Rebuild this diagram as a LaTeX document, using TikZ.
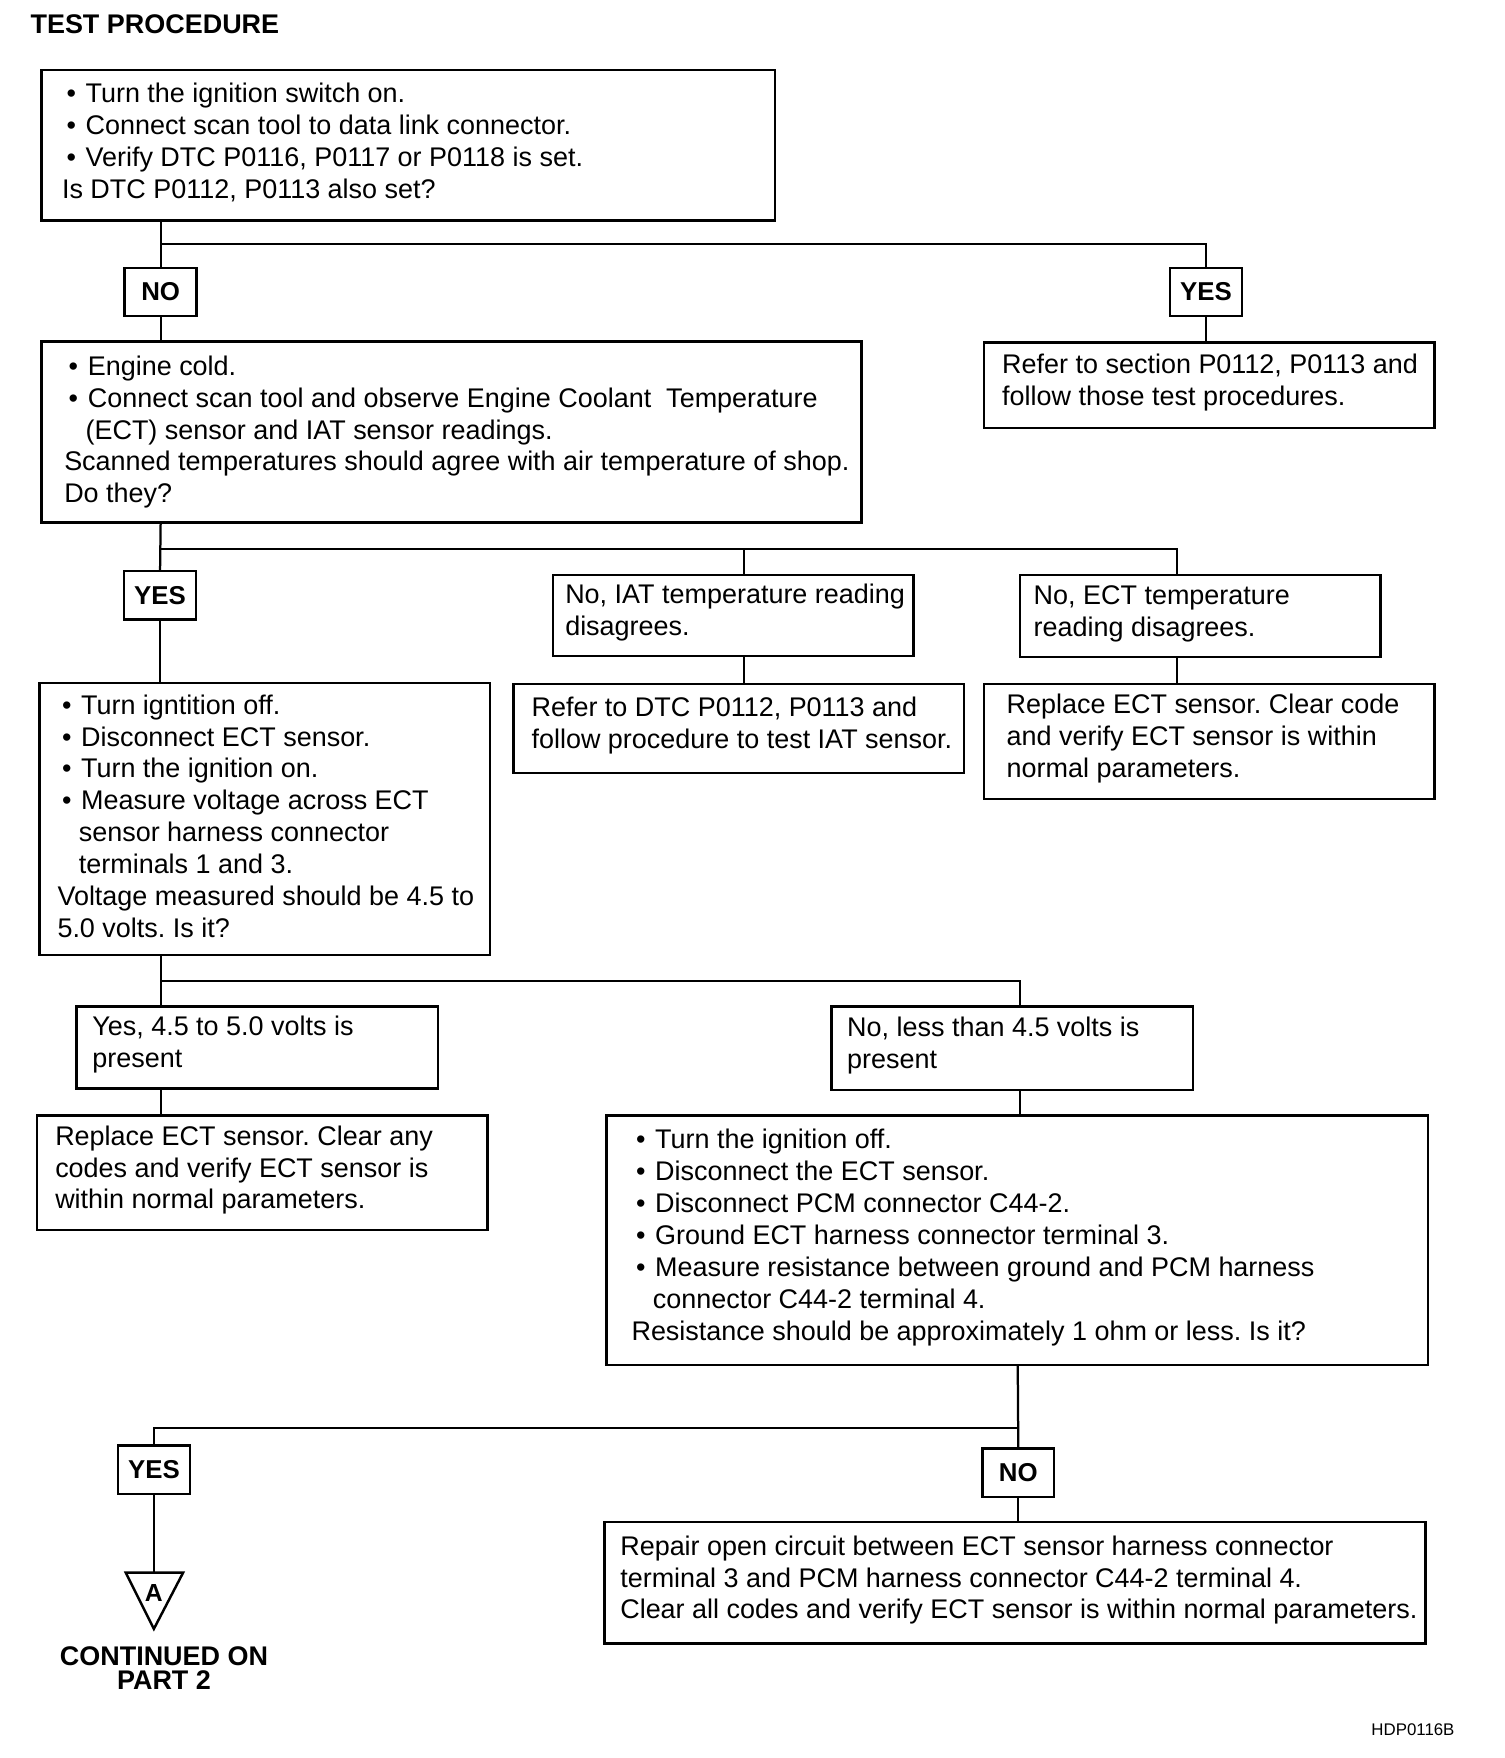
\documentclass[tikz,border=0pt]{standalone}
\usepackage{fontspec}
\setmainfont{Liberation Sans}
\usetikzlibrary{calc}
\frenchspacing

\newcommand{\bul}{\hspace*{4pt}\makebox[17pt][l]{\textbullet}}
\newcommand{\ind}{\hspace*{19pt}}

\tikzset{
  frame/.style={draw, line width=2.2pt, anchor=north west, inner sep=0pt},
  body/.style={anchor=west, align=left, inner sep=0pt, yshift=2.5pt, font=\fontsize{24}{28.4}\selectfont},
  answer/.style={draw, line width=2.2pt, minimum width=64pt, minimum height=43pt, inner sep=0pt, font=\bfseries\fontsize{23}{26}\selectfont},
  wire/.style={line width=2pt},
}

\begin{document}
\begin{tikzpicture}[x=1pt, y=-1pt]%
\useasboundingbox (0,0) rectangle (1339,1565);%
\node[anchor=west, inner sep=0pt, font=\bfseries\fontsize{24}{28}\selectfont] (title) at (27,22) {TEST PROCEDURE};%
% boxes
\node[frame, minimum width=653pt, minimum height=134pt] (chkdtc) at (36,61) {};%
\node[body] (chkdtc-t) at ([xshift=19pt]chkdtc.west) {\bul Turn the ignition switch on.\\ \bul Connect scan tool to data link connector.\\ \bul Verify DTC P0116, P0117 or P0118 is set.\\ Is DTC P0112, P0113 also set?};%
\node[frame, minimum width=730pt, minimum height=161pt] (chktemp) at (36,303) {};%
\node[body, yshift=-2.5pt] (chktemp-t) at ([xshift=21pt]chktemp.west) {\bul Engine cold.\\ \bul Connect scan tool and observe Engine Coolant\ \ Temperature\\ \ind (ECT) sensor and IAT sensor readings.\\ Scanned temperatures should agree with air temperature of shop.\\ Do they?};%
\node[frame, minimum width=401pt, minimum height=76pt] (refsec) at (875,304) {};%
\node[body] (refsec-t) at ([xshift=17pt]refsec.west) {Refer to section P0112, P0113 and\\ follow those test procedures.};%
\node[frame, minimum width=321pt, minimum height=72pt] (iat) at (491,511) {};%
\node[body] (iat-t) at ([xshift=12pt]iat.west) {No, IAT temperature reading\\ disagrees.};%
\node[frame, minimum width=321pt, minimum height=73pt] (ect) at (907,511) {};%
\node[body] (ect-t) at ([xshift=13pt]ect.west) {No, ECT temperature\\ reading disagrees.};%
\node[frame, minimum width=401pt, minimum height=79pt] (refiat) at (456,608) {};%
\node[body] (refiat-t) at ([xshift=17pt]refiat.west) {Refer to DTC P0112, P0113 and\\ follow procedure to test IAT sensor.};%
\node[frame, minimum width=401pt, minimum height=102pt] (repect) at (875,608) {};%
\node[body] (repect-t) at ([xshift=21pt]repect.west) {Replace ECT sensor. Clear code\\ and verify ECT sensor is within\\ normal parameters.};%
\node[frame, minimum width=401pt, minimum height=242pt] (volt) at (34,607) {};%
\node[body] (volt-t) at ([xshift=17pt]volt.west) {\bul Turn igntition off.\\ \bul Disconnect ECT sensor.\\ \bul Turn the ignition on.\\ \bul Measure voltage across ECT\\ \ind sensor harness connector\\ \ind terminals 1 and 3.\\ Voltage measured should be 4.5 to\\ 5.0 volts. Is it?};%
\node[frame, minimum width=322pt, minimum height=73pt] (yes45) at (67,895) {};%
\node[body] (yes45-t) at ([xshift=15pt]yes45.west) {Yes, 4.5 to 5.0 volts is\\ present};%
\node[frame, minimum width=322pt, minimum height=74pt] (no45) at (739,895) {};%
\node[body] (no45-t) at ([xshift=15pt]no45.west) {No, less than 4.5 volts is\\ present};%
\node[frame, minimum width=401pt, minimum height=102pt] (repany) at (32,992) {};%
\node[body] (repany-t) at ([xshift=17pt]repany.west) {Replace ECT sensor. Clear any\\ codes and verify ECT sensor is\\ within normal parameters.};%
\node[frame, minimum width=731pt, minimum height=222pt] (res) at (539,992) {};%
\node[body] (res-t) at ([xshift=23pt]res.west) {\bul Turn the ignition off.\\ \bul Disconnect the ECT sensor.\\ \bul Disconnect PCM connector C44-2.\\ \bul Ground ECT harness connector terminal 3.\\ \bul Measure resistance between ground and PCM harness\\ \ind connector C44-2 terminal 4.\\ Resistance should be approximately 1 ohm or less. Is it?};%
\node[frame, minimum width=731pt, minimum height=108pt] (repair) at (537,1354) {};%
\node[body] (repair-t) at ([xshift=15pt]repair.west) {Repair open circuit between ECT sensor harness connector\\ terminal 3 and PCM harness connector C44-2 terminal 4.\\ Clear all codes and verify ECT sensor is within normal parameters.};%
% answers
\node[answer] (no1) at (143,260) {NO};%
\node[answer] (yes1) at (1073.5,260) {YES};%
\node[answer] (yes2) at (142.5,530) {YES};%
\node[answer] (yes3) at (137,1308.5) {YES};%
\node[answer] (no3) at (906.5,1311) {NO};%
% junctions
\coordinate (j1) at (143,217);%
\coordinate (j2) at (143,489);%
\coordinate (j2m) at (662,489);%
\coordinate (j2r) at (1048,489);%
\coordinate (j3) at (143,873);%
\coordinate (j3r) at (908,873);%
\coordinate (j4) at (906,1271);%
\coordinate (tri) at (137,1400);%
% connectors
\draw[wire] (chkdtc.south -| j1) -- (no1.north);%
\draw[wire] (j1) -| (yes1.north);%
\draw[wire] (no1.south) -- (chktemp.north -| no1);%
\draw[wire] (yes1.south) -- (refsec.north -| yes1);%
\draw[wire] (chktemp.south -| j2) -- (yes2.north);%
\draw[wire] (j2) -- (j2r) -- (ect.north -| j2r);%
\draw[wire] (j2m) -- (iat.north -| j2m);%
\draw[wire] (iat.south -| j2m) -- (refiat.north -| j2m);%
\draw[wire] (ect.south -| j2r) -- (repect.north -| j2r);%
\draw[wire] (yes2.south) -- (volt.north -| yes2);%
\draw[wire] (volt.south -| j3) -- (yes45.north -| j3);%
\draw[wire] (j3) -- (j3r) -- (no45.north -| j3r);%
\draw[wire] (yes45.south -| j3) -- (repany.north -| j3);%
\draw[wire] (no45.south -| j3r) -- (res.north -| j3r);%
\draw[wire] (res.south -| j4) -- (no3.north);%
\draw[wire] (j4) -| (yes3.north);%
\draw[wire] (no3.south) -- (repair.north -| no3);%
\draw[wire] (yes3.south) -- (tri);%
% continuation
\draw[line width=2.2pt, line join=miter] (112,1400) -- (163,1400) -- (137,1450) -- cycle;%
\node[inner sep=0pt, font=\bfseries\fontsize{22}{24}\selectfont] (cont-a) at (137,1418) {A};%
\node[align=center, inner sep=0pt, font=\bfseries\fontsize{24}{22}\selectfont] (cont) at (146,1485) {CONTINUED ON\\ PART 2};%
\node[anchor=east, inner sep=0pt, font=\fontsize{15}{17}\selectfont] (ref) at (1295,1540) {HDP0116B};%
\end{tikzpicture}
\end{document}
